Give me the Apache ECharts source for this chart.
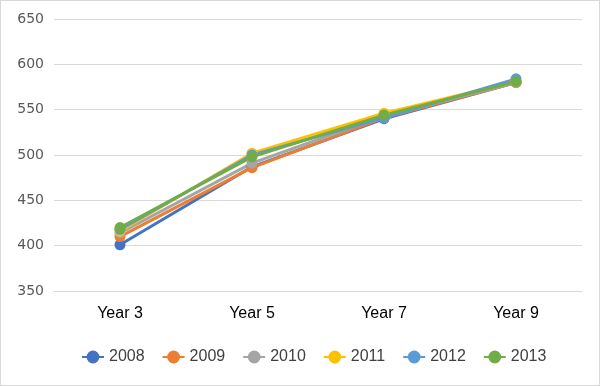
<!DOCTYPE html>
<html><head><meta charset="utf-8">
<script src="https://cdn.jsdelivr.net/npm/echarts@6/dist/echarts.min.js"></script>
<style>html,body{margin:0;padding:0;background:#fff}#c{width:600px;height:386px;box-sizing:border-box;border:1px solid #d9d9d9}</style>
</head><body><div id="c"></div>
<script>
const categories = ['Year 3', 'Year 5', 'Year 7', 'Year 9'];
const seriesNames = ['2008', '2009', '2010', '2011', '2012', '2013'];
const s2008 = [401, 487, 540, 580];
const s2009 = [410, 486, 541, 580];
const s2010 = [414, 491, 543, 580];
const s2011 = [416, 502, 546, 581];
const s2012 = [418, 500, 541, 584];
const s2013 = [420, 498, 544, 581];
const yTicks = [350, 400, 450, 500, 550, 600, 650];
const colors = ['#4472C4', '#ED7D31', '#A5A5A5', '#FFC000', '#5B9BD5', '#70AD47'];
const allData = [s2008, s2009, s2010, s2011, s2012, s2013];

const chart = echarts.init(document.getElementById('c'));
chart.setOption({
  animation: false,
  color: colors,
  grid: {left: 53, right: 17, top: 18, bottom: 94},
  xAxis: {
    type: 'category', data: categories, boundaryGap: true,
    axisLine: {show: true, lineStyle: {color: '#d9d9d9', width: 1}},
    axisTick: {show: false},
    axisLabel: {color: '#000', fontSize: 16, fontFamily: 'Liberation Sans, Arial, sans-serif', margin: 15}
  },
  yAxis: {
    type: 'value', min: yTicks[0], max: yTicks[yTicks.length - 1], interval: 50,
    axisLine: {show: false}, axisTick: {show: false},
    splitLine: {lineStyle: {color: '#d9d9d9', width: 1}},
    axisLabel: {color: '#595959', fontSize: 14, fontFamily: 'DejaVu Sans, sans-serif', margin: 10}
  },
  legend: {
    bottom: 15, left: 75, itemWidth: 22, itemHeight: 16, itemGap: 17,
    textStyle: {color: '#404040', fontSize: 16, fontFamily: 'Liberation Sans, Arial, sans-serif'},
    data: seriesNames
  },
  series: seriesNames.map((n, i) => ({
    name: n, type: 'line', data: allData[i],
    symbol: 'circle', symbolSize: 11,
    lineStyle: {width: 3, color: colors[i]},
    itemStyle: {color: colors[i]}
  }))
});
</script></body></html>
